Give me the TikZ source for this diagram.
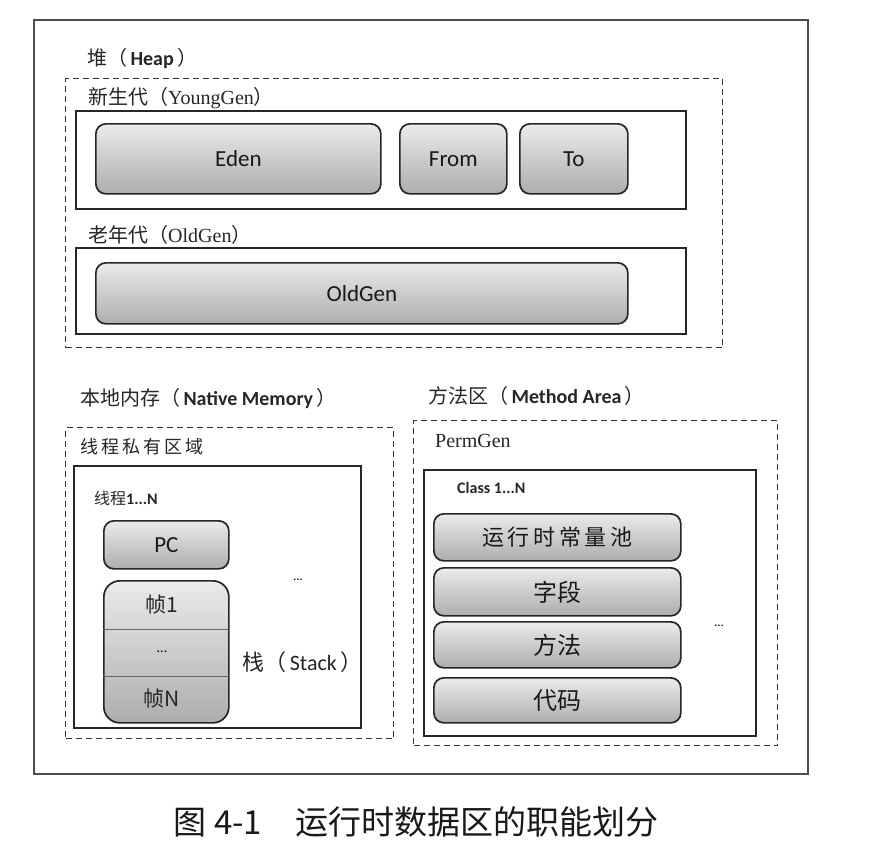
\documentclass[tikz,border=0pt]{standalone}
\usepackage{fontspec}
\setmainfont{Carlito}
\newfontfamily\cjk{Noto Sans CJK SC}
\newfontfamily\serifl{Liberation Serif}
\begin{document}
\begin{tikzpicture}[x=1pt,y=-1pt,
  area/.style={draw=black!85,line width=1.5pt,inner sep=0pt,anchor=north west,fill=white},
  dashbox/.style={draw=black!80,line width=1.4pt,dash pattern=on 6pt off 4pt,inner sep=0pt,anchor=north west},
  grad/.style={draw=black!85,line width=1.7pt,rounded corners=10pt,inner sep=0pt,anchor=north west,top color=black!8,bottom color=black!32,font=\fontsize{23}{25}\selectfont,text=black!90},
  lbl/.style={anchor=west,inner sep=0pt,text=black!85},
]
\useasboundingbox (0,0) rectangle (884,846);
\fill[white] (0,0) rectangle (884,846);
% outer frame
\node[area,minimum width=774pt,minimum height=754pt,fill=none,draw=black!70] (outer) at (33,19) {};
% heap
\node[lbl,font=\fontsize{20}{22}\selectfont] (heapl) at (87,59) {{\cjk 堆（}\,\textbf{Heap}\,{\cjk ）}};
\node[dashbox,minimum width=657pt,minimum height=269pt] (heap) at (65,78) {};
\node[lbl,font=\fontsize{20}{22}\selectfont] (youngl) at (88,98) {{\cjk 新生代（}{\serifl YoungGen}{\cjk ）}};
\node[area,minimum width=610pt,minimum height=98pt] (young) at (75,110) {};
\node[grad,minimum width=285pt,minimum height=70pt] (eden) at (95,123) {Eden};
\node[grad,minimum width=107pt,minimum height=70pt] (from) at (399,123) {From};
\node[grad,minimum width=108pt,minimum height=70pt] (to) at (519,123) {To};
\node[lbl,font=\fontsize{20}{22}\selectfont] (oldl) at (88,235) {{\cjk 老年代（}{\serifl OldGen}{\cjk ）}};
\node[area,minimum width=610pt,minimum height=86pt] (old) at (75,247) {};
\node[grad,minimum width=532pt,minimum height=61pt] (oldgen) at (95,262) {OldGen};
% native memory
\node[lbl,font=\fontsize{20}{22}\selectfont] (natl) at (80,399) {{\cjk 本地内存（}\,\textbf{Native Memory}\,{\cjk ）}};
\node[dashbox,minimum width=328pt,minimum height=311pt] (native) at (65,427) {};
\node[lbl,font=\fontsize{18}{20}\selectfont] (priv) at (80,447) {\cjk 线\,程\,私\,有\,区\,域};
\node[area,minimum width=287pt,minimum height=262pt] (thread) at (73,465) {};
\node[lbl,font=\fontsize{16}{18}\selectfont] (thl) at (94,498) {{\cjk 线程}\textbf{1...N}};
\node[grad,minimum width=125pt,minimum height=48pt] (pc) at (103,520) {PC};
\node[grad,minimum width=125pt,minimum height=142pt,rounded corners=16pt] (stack) at (103,580) {};
\draw[black!60,line width=0.9pt] ([yshift=-49pt]stack.north west) -- ([yshift=-49pt]stack.north east);
\draw[black!60,line width=0.9pt] ([yshift=47pt]stack.south west) -- ([yshift=47pt]stack.south east);
\node[font=\fontsize{21}{23}\selectfont\cjk,text=black!85] (f1) at (162,605) {帧1};
\node[font=\fontsize{14}{16}\selectfont] (fd) at (162,652) {...};
\node[font=\fontsize{21}{23}\selectfont\cjk,text=black!85] (fn) at (162,699) {帧N};
\node[font=\fontsize{13}{14}\selectfont] (dots1) at (298,580) {...};
\node[lbl,font=\fontsize{22}{24}\selectfont] (stackl) at (242,662) {{\cjk 栈（}\,Stack\,{\cjk ）}};
% method area
\node[lbl,font=\fontsize{20}{22}\selectfont] (methl) at (428,396) {{\cjk 方法区（}\,\textbf{Method Area}\,{\cjk ）}};
\node[dashbox,minimum width=364pt,minimum height=325pt] (method) at (413,420) {};
\node[lbl,font=\fontsize{20}{22}\selectfont\serifl] (perm) at (435,441) {PermGen};
\node[area,minimum width=332pt,minimum height=266pt] (classbox) at (423,469) {};
\node[lbl,font=\fontsize{16}{18}\selectfont] (cls) at (457,488) {\textbf{Class 1...N}};
\node[grad,minimum width=247pt,minimum height=47pt,font=\fontsize{22}{24}\selectfont\cjk] (pool) at (433,513) {运\,行\,时\,常\,量\,池};
\node[grad,minimum width=247pt,minimum height=48pt,font=\fontsize{24}{26}\selectfont\cjk] (field) at (433,567) {字段};
\node[grad,minimum width=247pt,minimum height=46pt,font=\fontsize{24}{26}\selectfont\cjk] (meth) at (433,621) {方法};
\node[grad,minimum width=247pt,minimum height=45pt,font=\fontsize{24}{26}\selectfont\cjk] (code) at (433,677) {代码};
\node[font=\fontsize{13}{14}\selectfont] (dots2) at (719,626) {...};
% caption
\node[font=\fontsize{33}{35}\selectfont\cjk,text=black!90] (cap) at (416,822) {图 4-1\quad 运行时数据区的职能划分};
\end{tikzpicture}
\end{document}
